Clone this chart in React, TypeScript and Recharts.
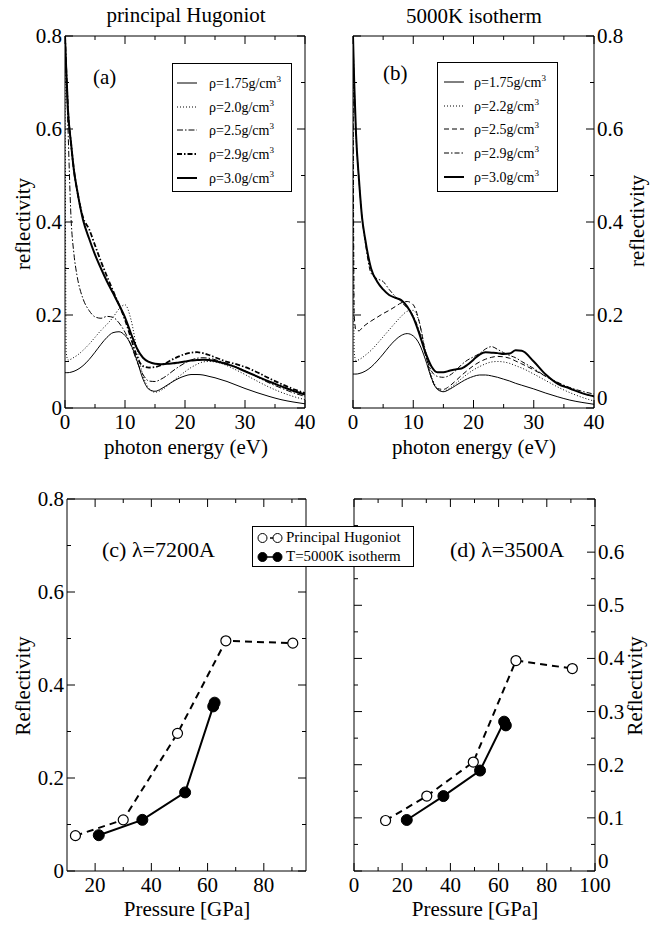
import React from 'react';
import { Legend, Line, LineChart, XAxis, YAxis } from 'recharts';

const FONT = '"Liberation Serif", "Times New Roman", Times, serif';

// photon energy grid (eV) used by all spectra in (a) and (b)
const energy = [
  0, 0.2, 0.5, 1, 1.5, 2,
  3, 4, 5, 6, 7, 8, 9, 10, 11, 12, 13, 14, 15, 16, 17, 18, 19, 20, 21, 22, 23, 24, 25, 26, 27, 28,
  30, 32, 34, 36, 38, 40
];

// (a) principal Hugoniot
const hugRho175 = [
  0.076, 0.076, 0.076, 0.077, 0.079, 0.082,
  0.091, 0.104, 0.12, 0.137, 0.152, 0.162, 0.164, 0.156, 0.136, 0.102, 0.062, 0.04, 0.036, 0.041, 0.049, 0.057, 0.064, 0.069, 0.072, 0.072, 0.071, 0.068, 0.065, 0.061, 0.057, 0.052,
  0.042, 0.033, 0.025, 0.018, 0.013, 0.009
];
const hugRho20 = [
  0.8, 0.12, 0.103, 0.105, 0.109, 0.113,
  0.124, 0.137, 0.152, 0.167, 0.18, 0.195, 0.213, 0.222, 0.19, 0.125, 0.07, 0.042, 0.034, 0.038, 0.047, 0.058, 0.068, 0.078, 0.087, 0.094, 0.099, 0.1, 0.099, 0.096, 0.091, 0.085,
  0.072, 0.058, 0.045, 0.034, 0.025, 0.018
];
const hugRho25 = [
  0.8, 0.72, 0.6, 0.41, 0.33, 0.285,
  0.235, 0.21, 0.196, 0.193, 0.197, 0.195, 0.183, 0.163, 0.135, 0.1, 0.072, 0.058, 0.057, 0.062, 0.07, 0.08, 0.089, 0.097, 0.103, 0.107, 0.108, 0.107, 0.104, 0.1, 0.096, 0.091,
  0.08, 0.067, 0.054, 0.043, 0.033, 0.025
];
const hugRho29 = [
  0.8, 0.73, 0.64, 0.57, 0.51, 0.47,
  0.41, 0.385, 0.35, 0.315, 0.283, 0.252, 0.222, 0.19, 0.15, 0.11, 0.09, 0.087, 0.088, 0.092, 0.098, 0.105, 0.111, 0.116, 0.119, 0.12, 0.118, 0.114, 0.109, 0.104, 0.099, 0.096,
  0.088, 0.077, 0.064, 0.052, 0.041, 0.032
];
const hugRho30 = [
  0.8, 0.73, 0.64, 0.57, 0.51, 0.47,
  0.405, 0.365, 0.33, 0.3, 0.272, 0.247, 0.222, 0.195, 0.16, 0.128, 0.108, 0.099, 0.095, 0.094, 0.095, 0.096, 0.098, 0.1, 0.102, 0.103, 0.104, 0.103, 0.101, 0.098, 0.094, 0.09,
  0.079, 0.068, 0.057, 0.047, 0.037, 0.029
];

// (b) 5000K isotherm
const isoRho175 = [
  0.073, 0.073, 0.073, 0.074, 0.076, 0.079,
  0.088, 0.101, 0.116, 0.132, 0.146, 0.156, 0.16, 0.155, 0.138, 0.105, 0.065, 0.04, 0.035, 0.04, 0.048, 0.056, 0.063, 0.068, 0.071, 0.071, 0.069, 0.066, 0.062, 0.058, 0.053, 0.049,
  0.041, 0.032, 0.024, 0.017, 0.012, 0.008
];
const isoRho22 = [
  0.8, 0.12, 0.102, 0.104, 0.108, 0.113,
  0.124, 0.138, 0.153, 0.168, 0.183, 0.197, 0.208, 0.21, 0.185, 0.125, 0.07, 0.042, 0.036, 0.042, 0.052, 0.063, 0.073, 0.082, 0.089, 0.095, 0.099, 0.1, 0.099, 0.096, 0.091, 0.086,
  0.073, 0.059, 0.045, 0.033, 0.023, 0.015
];
const isoRho25 = [
  0.8, 0.2, 0.168, 0.166, 0.172, 0.178,
  0.187, 0.195, 0.203, 0.21, 0.218, 0.226, 0.229, 0.222, 0.185, 0.12, 0.065, 0.042, 0.04, 0.047, 0.058, 0.07, 0.081, 0.091, 0.099, 0.105, 0.109, 0.111, 0.11, 0.107, 0.101, 0.095,
  0.082, 0.068, 0.054, 0.042, 0.032, 0.024
];
const isoRho29 = [
  0.8, 0.7, 0.59, 0.49, 0.41, 0.36,
  0.29, 0.278, 0.272, 0.255, 0.24, 0.228, 0.215, 0.198, 0.165, 0.115, 0.08, 0.068, 0.066, 0.07, 0.08, 0.093, 0.103, 0.11, 0.117, 0.127, 0.132, 0.126, 0.119, 0.113, 0.108, 0.1,
  0.085, 0.068, 0.055, 0.044, 0.036, 0.03
];
const isoRho30 = [
  0.8, 0.7, 0.59, 0.49, 0.41, 0.365,
  0.3, 0.272, 0.255, 0.243, 0.237, 0.232, 0.218, 0.195, 0.16, 0.12, 0.09, 0.077, 0.077, 0.08, 0.083, 0.085, 0.093, 0.104, 0.115, 0.12, 0.119, 0.118, 0.116, 0.117, 0.124, 0.123,
  0.1, 0.072, 0.052, 0.042, 0.032, 0.025
];

// (c) lambda = 7200 A
const hugPressC = [13, 30, 49.3, 66.5, 90.3];
const hugReflC = [0.076, 0.11, 0.296, 0.495, 0.49];
const isoPressC = [21.3, 36.8, 52, 62, 62.5];
const isoReflC = [0.077, 0.11, 0.169, 0.354, 0.362];

// (d) lambda = 3500 A
const hugPressD = [13.1, 30.2, 49.5, 67.2, 90.6];
const hugReflD = [0.095, 0.141, 0.205, 0.396, 0.381];
const isoPressD = [21.9, 37.1, 52.3, 62.3, 63];
const isoReflD = [0.096, 0.141, 0.189, 0.281, 0.274];

// ticks
const eTicks = [0, 5, 10, 15, 20, 25, 30, 35, 40];
const eMajor = [0, 10, 20, 30, 40];
const rTicks = [0, 0.1, 0.2, 0.3, 0.4, 0.5, 0.6, 0.7, 0.8];
const rMajor = [0, 0.2, 0.4, 0.6, 0.8];
const pTicksC = [20, 30, 40, 50, 60, 70, 80, 90];
const pMajorC = [20, 40, 60, 80];
const pTicksD = [0, 10, 20, 30, 40, 50, 60, 70, 80, 90, 100];
const pMajorD = [0, 20, 40, 60, 80, 100];
const rTicksD = [0, 0.05, 0.1, 0.15, 0.2, 0.25, 0.3, 0.35, 0.4, 0.45, 0.5, 0.55, 0.6, 0.65, 0.7];
const rMajorD = [0, 0.1, 0.2, 0.3, 0.4, 0.5, 0.6, 0.7];
const rLabelD = [0, 0.1, 0.2, 0.3, 0.4, 0.5, 0.6];

type Side = 'bottom' | 'top' | 'left' | 'right';
type Spec = { name: string; values: number[]; width: number; dash?: string };

const hugSpecs: Spec[] = [
  { name: '1.75', values: hugRho175, width: 1 },
  { name: '2.0', values: hugRho20, width: 1, dash: '1 2' },
  { name: '2.5', values: hugRho25, width: 1, dash: '6 2 1.5 2' },
  { name: '2.9', values: hugRho29, width: 1.8, dash: '5 2 1.5 2' },
  { name: '3.0', values: hugRho30, width: 2 }
];
const isoSpecs: Spec[] = [
  { name: '1.75', values: isoRho175, width: 1 },
  { name: '2.2', values: isoRho22, width: 1, dash: '1 2' },
  { name: '2.5', values: isoRho25, width: 1, dash: '5 3' },
  { name: '2.9', values: isoRho29, width: 1, dash: '5 2 1.5 2' },
  { name: '3.0', values: isoRho30, width: 2 }
];

const toSpectrum = (vals: number[]) => energy.map((e, i) => ({ e, r: vals[i] }));
const toPoints = (ps: number[], rs: number[]) => ps.map((p, i) => ({ p, r: rs[i] }));

const has = (list: number[], v: number) => list.some((m) => Math.abs(m - v) < 1e-6);
const txt = { fill: '#000', stroke: 'none', fontSize: 21, fontFamily: FONT };

function makeTick(side: Side, majors: number[], labels: number[]) {
  return function Tick(p: any) {
    const v = Number(p.payload.value);
    const len = has(majors, v) ? 8 : 4;
    const show = has(labels, v);
    const x = p.x;
    const y = p.y;
    if (side === 'bottom') {
      return (
        <g>
          <line x1={x} y1={y} x2={x} y2={y - len} stroke="#000" />
          {show && <text x={x} y={y + 21} textAnchor="middle" {...txt}>{v}</text>}
        </g>
      );
    }
    if (side === 'top') {
      return <line x1={x} y1={y} x2={x} y2={y + len} stroke="#000" />;
    }
    if (side === 'left') {
      return (
        <g>
          <line x1={x} y1={y} x2={x + len} y2={y} stroke="#000" />
          {show && <text x={x - 3} y={y + 7} textAnchor="end" {...txt}>{v}</text>}
        </g>
      );
    }
    // the right-hand zero is lifted so it clears the last bottom label
    const dy = v === 0 ? -3 : 7;
    return (
      <g>
        <line x1={x} y1={y} x2={x - len} y2={y} stroke="#000" />
        {show && <text x={x + 3} y={y + dy} textAnchor="start" {...txt}>{v}</text>}
      </g>
    );
  };
}

const axisLine = { stroke: '#000', strokeWidth: 1 };

function SpectrumLegend({ specs, padLeft, gap }: { specs: Spec[]; padLeft: number; gap: number }) {
  return (
    <div
      style={{
        boxSizing: 'border-box',
        width: '100%',
        height: '100%',
        border: '1px solid #000',
        background: '#fff',
        paddingTop: 7,
        fontFamily: FONT,
        fontSize: 14,
        color: '#000'
      }}
    >
      {specs.map((s) => (
        <div key={s.name} style={{ height: 23.7, display: 'flex', alignItems: 'center' }}>
          <svg width={20} height={10} style={{ marginLeft: padLeft, marginRight: gap }}>
            <line x1={0} y1={5} x2={20} y2={5} stroke="#000" strokeWidth={s.width} strokeDasharray={s.dash} />
          </svg>
          <span style={{ whiteSpace: 'nowrap' }}>
            ρ={s.name}g/cm<sup style={{ fontSize: 9 }}>3</sup>
          </span>
        </div>
      ))}
    </div>
  );
}

function PressureLegend() {
  const rows = [
    { label: 'Principal Hugoniot', fill: '#fff', dash: '4 3' },
    { label: 'T=5000K isotherm', fill: '#000', dash: undefined }
  ];
  return (
    <div
      style={{
        boxSizing: 'border-box',
        width: '100%',
        height: '100%',
        border: '1px solid #000',
        background: '#fff',
        paddingTop: 1,
        fontFamily: FONT,
        fontSize: 15,
        color: '#000'
      }}
    >
      {rows.map((r) => (
        <div key={r.label} style={{ height: 19, display: 'flex', alignItems: 'center' }}>
          <svg width={33} height={12}>
            <line x1={10} y1={6} x2={24} y2={6} stroke="#000" strokeWidth={1.5} strokeDasharray={r.dash} />
            <circle cx={9.5} cy={6} r={4.5} fill={r.fill} stroke="#000" />
            <circle cx={24.5} cy={6} r={4.5} fill={r.fill} stroke="#000" />
          </svg>
          <span style={{ whiteSpace: 'nowrap' }}>{r.label}</span>
        </div>
      ))}
    </div>
  );
}

// axes keep a 1px size (a zero-size axis is not drawn), margins are reduced by that pixel
function Frame({ xKey, xDomain, xTicks, xMajor, yDomain, yTicks, yMajor, yLabels, labelSide }: any) {
  return [
    <XAxis
      key="xb"
      dataKey={xKey}
      type="number"
      domain={xDomain}
      allowDataOverflow
      ticks={xTicks}
      interval={0}
      height={1}
      tickSize={0}
      tickMargin={0}
      tickLine={false}
      axisLine={axisLine}
      tick={makeTick('bottom', xMajor, xMajor)}
    />,
    <XAxis
      key="xt"
      xAxisId="top"
      orientation="top"
      dataKey={xKey}
      type="number"
      domain={xDomain}
      allowDataOverflow
      ticks={xTicks}
      interval={0}
      height={1}
      tickSize={0}
      tickMargin={0}
      tickLine={false}
      axisLine={axisLine}
      tick={makeTick('top', xMajor, [])}
    />,
    <YAxis
      key="yl"
      type="number"
      domain={yDomain}
      allowDataOverflow
      ticks={yTicks}
      interval={0}
      width={1}
      tickSize={0}
      tickMargin={0}
      tickLine={false}
      axisLine={axisLine}
      tick={makeTick('left', yMajor, labelSide === 'left' ? yLabels : [])}
    />,
    <YAxis
      key="yr"
      yAxisId="right"
      orientation="right"
      type="number"
      domain={yDomain}
      allowDataOverflow
      ticks={yTicks}
      interval={0}
      width={1}
      tickSize={0}
      tickMargin={0}
      tickLine={false}
      axisLine={axisLine}
      tick={makeTick('right', yMajor, labelSide === 'right' ? yLabels : [])}
    />
  ];
}

function SpectrumPanel({
  specs,
  margin,
  labelSide
}: {
  specs: Spec[];
  margin: { top: number; right: number; bottom: number; left: number };
  labelSide: 'left' | 'right';
}) {
  return (
    <LineChart width={330} height={470} margin={margin}>
      {Frame({
        xKey: 'e',
        xDomain: [0, 40],
        xTicks: eTicks,
        xMajor: eMajor,
        yDomain: [0, 0.8],
        yTicks: rTicks,
        yMajor: rMajor,
        yLabels: rMajor,
        labelSide
      })}
      {specs.map((s) => (
        <Line
          key={s.name}
          data={toSpectrum(s.values)}
          dataKey="r"
          name={s.name}
          type="monotone"
          stroke="#000"
          strokeWidth={s.width}
          strokeDasharray={s.dash}
          dot={false}
          activeDot={false}
          isAnimationActive={false}
        />
      ))}
    </LineChart>
  );
}

function PressurePanel({ hug, iso, margin, pDomain, pTicks, pMajor, rDomain, rTicksList, rMajorList, rLabels, labelSide, children }: any) {
  return (
    <LineChart width={330} height={456} margin={margin}>
      {Frame({
        xKey: 'p',
        xDomain: pDomain,
        xTicks: pTicks,
        xMajor: pMajor,
        yDomain: rDomain,
        yTicks: rTicksList,
        yMajor: rMajorList,
        yLabels: rLabels,
        labelSide
      })}
      <Line
        data={hug}
        dataKey="r"
        name="Principal Hugoniot"
        type="linear"
        stroke="#000"
        strokeWidth={2}
        strokeDasharray="7 5"
        dot={{ r: 5, fill: '#fff', stroke: '#000', strokeWidth: 1.2, strokeDasharray: 'none' }}
        activeDot={false}
        isAnimationActive={false}
      />
      <Line
        data={iso}
        dataKey="r"
        name="T=5000K isotherm"
        type="linear"
        stroke="#000"
        strokeWidth={2}
        dot={{ r: 5.5, fill: '#000', stroke: '#000', strokeWidth: 1 }}
        activeDot={false}
        isAnimationActive={false}
      />
      {children}
    </LineChart>
  );
}

const label = { fill: '#000', fontSize: 21, fontFamily: FONT };

export default function App() {
  return (
    <div style={{ position: 'absolute', left: 0, top: 0, width: 660, height: 926, background: '#fff' }}>
      <div style={{ position: 'absolute', left: 0, top: 0 }}>
        <SpectrumPanel specs={hugSpecs} margin={{ top: 35, right: 24, bottom: 61, left: 64 }} labelSide="left" />
        <svg width={330} height={470} style={{ position: 'absolute', left: 0, top: 0, pointerEvents: 'none' }}>
          <text x={186} y={22} textAnchor="middle" {...label}>principal Hugoniot</text>
          <text x={93} y={84} {...label}>(a)</text>
          <text x={186} y={454} textAnchor="middle" {...label}>photon energy (eV)</text>
          <text x={30} y={224} textAnchor="middle" transform="rotate(-90 30 224)" {...label}>reflectivity</text>
        </svg>
        <div style={{ position: 'absolute', left: 172, top: 63, width: 120, height: 129 }}>
          <SpectrumLegend specs={hugSpecs} padLeft={4} gap={12} />
        </div>
      </div>
      <div style={{ position: 'absolute', left: 330, top: 0 }}>
        <SpectrumPanel specs={isoSpecs} margin={{ top: 35, right: 65, bottom: 61, left: 22 }} labelSide="right" />
        <svg width={330} height={470} style={{ position: 'absolute', left: 0, top: 0, pointerEvents: 'none' }}>
          <text x={144} y={23} textAnchor="middle" {...label}>5000K isotherm</text>
          <text x={53} y={80} {...label}>(b)</text>
          <text x={144} y={454} textAnchor="middle" {...label}>photon energy (eV)</text>
          <text x={314} y={221} textAnchor="middle" transform="rotate(-90 314 221)" {...label}>reflectivity</text>
        </svg>
        <div style={{ position: 'absolute', left: 107, top: 62, width: 121, height: 130 }}>
          <SpectrumLegend specs={isoSpecs} padLeft={6} gap={10} />
        </div>
      </div>
      <div style={{ position: 'absolute', left: 330, top: 470, zIndex: 1 }}>
        <PressurePanel
          hug={toPoints(hugPressD, hugReflD)}
          iso={toPoints(isoPressD, isoReflD)}
          margin={{ top: 28, right: 64, bottom: 54, left: 23 }}
          pDomain={[0, 100]}
          pTicks={pTicksD}
          pMajor={pMajorD}
          rDomain={[0, 0.7]}
          rTicksList={rTicksD}
          rMajorList={rMajorD}
          rLabels={rLabelD}
          labelSide="right"
        />
        <svg width={330} height={456} style={{ position: 'absolute', left: 0, top: 0, pointerEvents: 'none' }}>
          <text x={120} y={87} fontSize={22} fontFamily={FONT} fill="#000">(d) λ=3500A</text>
          <text x={145} y={446} textAnchor="middle" {...label}>Pressure [GPa]</text>
          <text x={312} y={216} textAnchor="middle" transform="rotate(-90 312 216)" {...label}>Reflectivity</text>
        </svg>
      </div>
      <div style={{ position: 'absolute', left: 0, top: 470, zIndex: 2 }}>
        <PressurePanel
          hug={toPoints(hugPressC, hugReflC)}
          iso={toPoints(isoPressC, isoReflC)}
          margin={{ top: 28, right: 23, bottom: 54, left: 66 }}
          pDomain={[10, 95]}
          pTicks={pTicksC}
          pMajor={pMajorC}
          rDomain={[0, 0.8]}
          rTicksList={rTicks}
          rMajorList={rMajor}
          rLabels={rMajor}
          labelSide="left"
        >
          <Legend
            layout="vertical"
            align="center"
            verticalAlign="middle"
            wrapperStyle={{ left: 252, top: 56, width: 162, height: 41, zIndex: 5 }}
            content={() => <PressureLegend />}
          />
        </PressurePanel>
        <svg width={330} height={456} style={{ position: 'absolute', left: 0, top: 0, pointerEvents: 'none' }}>
          <text x={102} y={87} fontSize={22} fontFamily={FONT} fill="#000">(c) λ=7200A</text>
          <text x={187} y={446} textAnchor="middle" {...label}>Pressure [GPa]</text>
          <text x={30} y={216} textAnchor="middle" transform="rotate(-90 30 216)" {...label}>Reflectivity</text>
        </svg>
      </div>
    </div>
  );
}
